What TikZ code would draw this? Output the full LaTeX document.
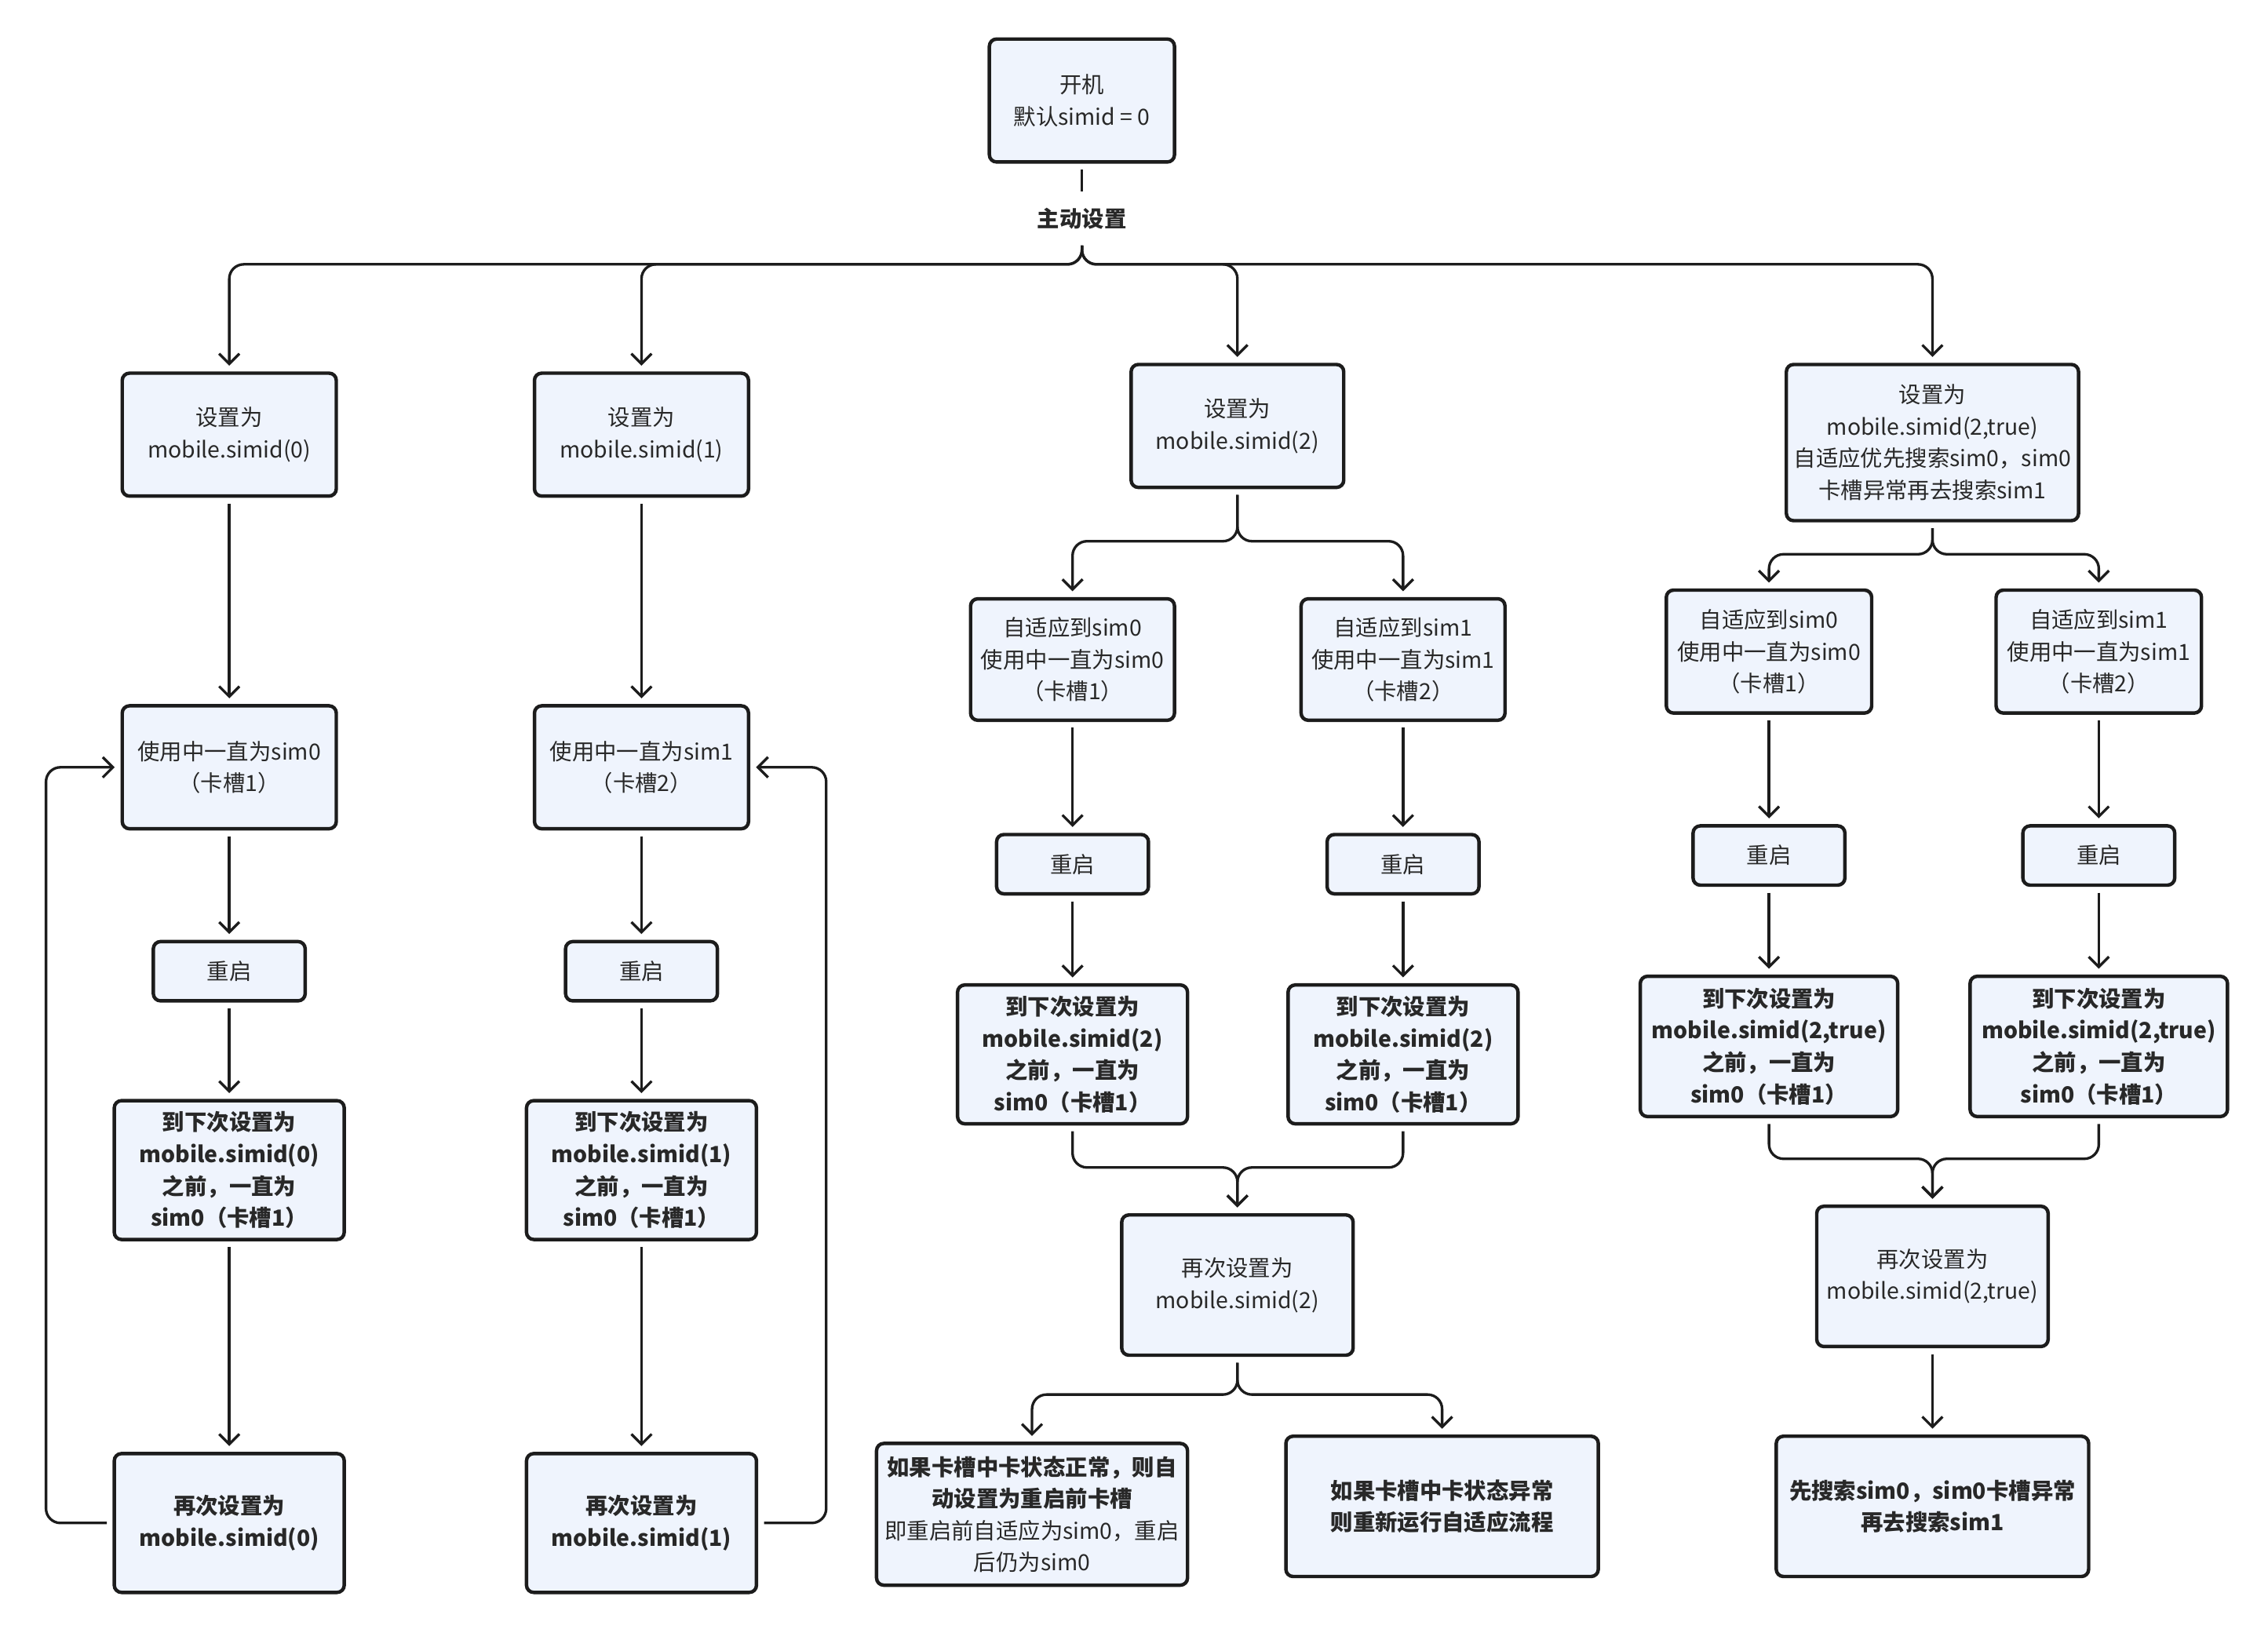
\documentclass[tikz,border=0pt]{standalone}
\usepackage{fontspec}
\setmainfont{Noto Sans CJK SC}
\usetikzlibrary{arrows.meta, positioning}
\definecolor{boxfill}{RGB}{239,244,253}
\definecolor{linec}{RGB}{28,28,28}
\definecolor{textc}{RGB}{40,40,40}

\begin{document}
\begin{tikzpicture}[
    x=0.5pt, y=-0.5pt,
    box/.style={draw=linec, fill=boxfill, rounded corners=2.5pt, line width=1.2pt,
                align=center, text=textc, inner sep=2pt, font=\fontsize{7.7}{11}\selectfont},
    bbox/.style={box, font=\fontsize{7.7}{11}\selectfont\bfseries},
    sz/.style 2 args={minimum width=#1*0.5pt, minimum height=#2*0.5pt},
    arr/.style={-{Straight Barb[length=3.5pt,width=7pt]}, line width=0.9pt, draw=linec,
                rounded corners=5pt, shorten <=2pt, shorten >=2pt}
  ]
    \useasboundingbox (0,0) rectangle (1568,1129);

    % top
    \node[box, sz={128}{85}] (start) at (748,69.5) {开机\\默认simid = 0};
    \node[font=\fontsize{7.7}{11}\selectfont\bfseries, text=textc, inner sep=3.5pt] (lbl) at (748,151) {主动设置};

    % row of settings
    \node[box, sz={148}{85}] (a1) at (158.5,300.5) {设置为\\mobile.simid(0)};
    \node[box, sz={148}{85}] (b1) at (443.5,300.5) {设置为\\mobile.simid(1)};
    \node[box, sz={147}{85}] (c1) at (855.5,294.5) {设置为\\mobile.simid(2)};
    \node[box, sz={202}{108}] (d1) at (1336,306) {设置为\\mobile.simid(2,true)\\自适应优先搜索sim0，sim0\\卡槽异常再去搜索sim1};

    % simid(0)
    \node[box, sz={148}{85}] (a2) at (158.5,530.5) {使用中一直为sim0\\（卡槽1）};
    \node[box, sz={105}{41}] (a3) at (158.5,671.5) {重启};
    \node[bbox, sz={159}{96}] (a4) at (158.5,809) {到下次设置为\\mobile.simid(0)\\之前，一直为\\sim0（卡槽1）};
    \node[bbox, sz={159}{96}] (a5) at (158.5,1053) {再次设置为\\mobile.simid(0)};

    % simid(1)
    \node[box, sz={148}{85}] (b2) at (443.5,530.5) {使用中一直为sim1\\（卡槽2）};
    \node[box, sz={105}{41}] (b3) at (443.5,671.5) {重启};
    \node[bbox, sz={159}{96}] (b4) at (443.5,809) {到下次设置为\\mobile.simid(1)\\之前，一直为\\sim0（卡槽1）};
    \node[bbox, sz={159}{96}] (b5) at (443.5,1053) {再次设置为\\mobile.simid(1)};

    % simid(2)
    \node[box, sz={141}{84}] (c2a) at (741.5,456) {自适应到sim0\\使用中一直为sim0\\（卡槽1）};
    \node[box, sz={141}{84}] (c2b) at (970,456) {自适应到sim1\\使用中一直为sim1\\（卡槽2）};
    \node[box, sz={105}{41}] (c3a) at (741.5,597.5) {重启};
    \node[box, sz={105}{41}] (c3b) at (970,597.5) {重启};
    \node[bbox, sz={159}{96}] (c4a) at (741.5,729) {到下次设置为\\mobile.simid(2)\\之前，一直为\\sim0（卡槽1）};
    \node[bbox, sz={159}{96}] (c4b) at (970,729) {到下次设置为\\mobile.simid(2)\\之前，一直为\\sim0（卡槽1）};
    \node[box, sz={160}{97}] (c5) at (855.5,888.5) {再次设置为\\mobile.simid(2)};
    \node[box, sz={215}{98}] (c6a) at (713.5,1047) {{\bfseries 如果卡槽中卡状态正常，则自}\\{\bfseries 动设置为重启前卡槽}\\即重启前自适应为sim0，重启\\后仍为sim0};
    \node[bbox, sz={216}{97}] (c6b) at (997,1041.5) {如果卡槽中卡状态异常\\则重新运行自适应流程};

    % simid(2,true)
    \node[box, sz={142}{85}] (d2a) at (1223,450.5) {自适应到sim0\\使用中一直为sim0\\（卡槽1）};
    \node[box, sz={142}{85}] (d2b) at (1451,450.5) {自适应到sim1\\使用中一直为sim1\\（卡槽2）};
    \node[box, sz={105}{41}] (d3a) at (1223,591.5) {重启};
    \node[box, sz={105}{41}] (d3b) at (1451,591.5) {重启};
    \node[bbox, sz={178}{97}] (d4a) at (1223,723.5) {到下次设置为\\mobile.simid(2,true)\\之前，一直为\\sim0（卡槽1）};
    \node[bbox, sz={178}{97}] (d4b) at (1451,723.5) {到下次设置为\\mobile.simid(2,true)\\之前，一直为\\sim0（卡槽1）};
    \node[box, sz={160}{97}] (d5) at (1336,882.5) {再次设置为\\mobile.simid(2,true)};
    \node[bbox, sz={216}{97}] (d6) at (1336,1041.5) {先搜索sim0，sim0卡槽异常\\再去搜索sim1};

    % connectors
    \draw[arr, -] (start) -- (lbl);
    \foreach \n in {a1, b1, c1, d1}
      \draw[arr] (lbl.south) -- ++(0,17) -| (\n.north);

    \draw[arr] (a1) -- (a2);
    \draw[arr] (a2) -- (a3);
    \draw[arr] (a3) -- (a4);
    \draw[arr] (a4) -- (a5);
    \draw[arr] (a5.west) -- ++(-46,0) |- (a2.west);

    \draw[arr] (b1) -- (b2);
    \draw[arr] (b2) -- (b3);
    \draw[arr] (b3) -- (b4);
    \draw[arr] (b4) -- (b5);
    \draw[arr] (b5.east) -- ++(47,0) |- (b2.east);

    \draw[arr] (c1.south) -- ++(0,36) -| (c2a.north);
    \draw[arr] (c1.south) -- ++(0,36) -| (c2b.north);
    \draw[arr] (c2a) -- (c3a);
    \draw[arr] (c2b) -- (c3b);
    \draw[arr] (c3a) -- (c4a);
    \draw[arr] (c3b) -- (c4b);
    \draw[arr] (c4a.south) -- ++(0,29) -| (c5.north);
    \draw[arr] (c4b.south) -- ++(0,29) -| (c5.north);
    \draw[arr] (c5.south) -- ++(0,26) -| (c6a.north);
    \draw[arr] (c5.south) -- ++(0,26) -| (c6b.north);

    \draw[arr] (d1.south) -- ++(0,22) -| (d2a.north);
    \draw[arr] (d1.south) -- ++(0,22) -| (d2b.north);
    \draw[arr] (d2a) -- (d3a);
    \draw[arr] (d2b) -- (d3b);
    \draw[arr] (d3a) -- (d4a);
    \draw[arr] (d3b) -- (d4b);
    \draw[arr] (d4a.south) -- ++(0,28) -| (d5.north);
    \draw[arr] (d4b.south) -- ++(0,28) -| (d5.north);
    \draw[arr] (d5) -- (d6);
  \end{tikzpicture}
\end{document}
